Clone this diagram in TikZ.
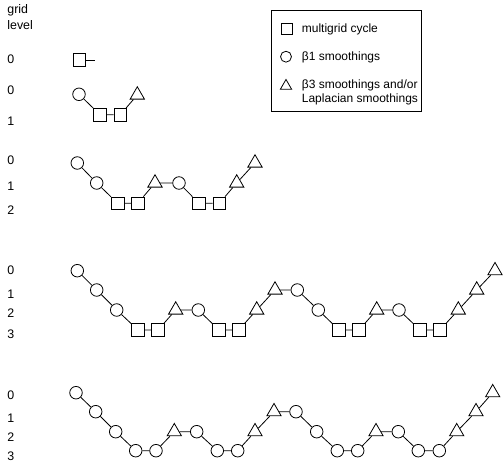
\documentclass[tikz,border=0pt]{standalone}
\usepackage{fontspec}
\setmainfont{Liberation Sans}
\usetikzlibrary{shapes.geometric}

\tikzset{
  mgsq/.style={draw, rectangle, minimum size=9.4pt, inner sep=0pt},
  smcirc/.style={draw, circle, minimum size=9.4pt, inner sep=0pt},
  lptri/.style={draw, regular polygon, regular polygon sides=3, minimum size=12.4pt, inner sep=0pt},
  keysq/.style={mgsq, minimum size=8pt},
  keycirc/.style={smcirc, minimum size=8.2pt},
  keytri/.style={lptri, minimum size=9.8pt},
  lvltext/.style={anchor=west, inner sep=0.75pt, font=\fontsize{9.3}{11}\selectfont},
  keytext/.style={anchor=west, inner sep=0.75pt, align=left, font=\fontsize{9}{10.5}\selectfont},
}

\begin{document}
\begin{tikzpicture}[x=0.75pt,y=0.75pt,yscale=-1,xscale=1,line width=0.6pt]
\useasboundingbox (0,0) rectangle (503,464);

% Text Node
\draw (6,10.7) node [lvltext] (head1) {grid};
% Text Node
\draw (6,25) node [lvltext] (head2) {level};

%Row 1
\draw (6,59) node [lvltext] (la0) {0};
\draw (79.3,60) node [mgsq] (a1) {};
\coordinate (a0) at (95,60);
\draw (a1) -- (a0);

%Row 2
\draw (6,90) node [lvltext] (lb0) {0};
\draw (6,121.7) node [lvltext] (lb1) {1};
\draw (79,94.3) node [smcirc] (b1) {};
\draw (100,114.7) node [mgsq] (b2) {};
\draw (120.3,114.7) node [mgsq] (b3) {};
\draw (137.3,95) node [lptri] (b4) {};
\draw (b1) -- (b2) -- (b3) -- (b4);

%Row 3
\draw (6,160.7) node [lvltext] (lc0) {0};
\draw (6,186.7) node [lvltext] (lc1) {1};
\draw (6,210) node [lvltext] (lc2) {2};
\draw (77.3,163) node [smcirc] (c1) {};
\draw (96.7,183) node [smcirc] (c2) {};
\draw (117.7,203.3) node [mgsq] (c3) {};
\draw (137.7,203.3) node [mgsq] (c4) {};
\draw (155,183) node [lptri] (c5) {};
\draw (179,183) node [smcirc] (c6) {};
\draw (199,203.3) node [mgsq] (c7) {};
\draw (219.3,203.3) node [mgsq] (c8) {};
\draw (236.7,183) node [lptri] (c9) {};
\draw (255,163) node [lptri] (c10) {};
\draw (c1) -- (c2) -- (c3) -- (c4) -- (c5) -- (c6) -- (c7) -- (c8) -- (c9) -- (c10);

%Row 4
\draw (6,270) node [lvltext] (ld0) {0};
\draw (6,294) node [lvltext] (ld1) {1};
\draw (6,312.7) node [lvltext] (ld2) {2};
\draw (6,334) node [lvltext] (ld3) {3};
\draw (77.3,270.7) node [smcirc] (d1) {};
\draw (96.7,290) node [smcirc] (d2) {};
\draw (116.7,310) node [smcirc] (d3) {};
\draw (138,330) node [mgsq] (d4) {};
\draw (158,330) node [mgsq] (d5) {};
\draw (175.7,310) node [lptri] (d6) {};
\draw (198.3,310) node [smcirc] (d7) {};
\draw (219,330) node [mgsq] (d8) {};
\draw (238.7,330) node [mgsq] (d9) {};
\draw (256.7,310) node [lptri] (d10) {};
\draw (275,290) node [lptri] (d11) {};
\draw (297.3,290) node [smcirc] (d12) {};
\draw (318.3,310) node [smcirc] (d13) {};
\draw (339,330) node [mgsq] (d14) {};
\draw (359,330) node [mgsq] (d15) {};
\draw (376.7,310) node [lptri] (d16) {};
\draw (399,310) node [smcirc] (d17) {};
\draw (420,330) node [mgsq] (d18) {};
\draw (440,330) node [mgsq] (d19) {};
\draw (458.3,310) node [lptri] (d20) {};
\draw (476.7,290) node [lptri] (d21) {};
\draw (495,270.7) node [lptri] (d22) {};
\draw (d1) -- (d2) -- (d3) -- (d4) -- (d5) -- (d6) -- (d7) -- (d8) -- (d9) -- (d10) -- (d11)
  -- (d12) -- (d13) -- (d14) -- (d15) -- (d16) -- (d17) -- (d18) -- (d19) -- (d20) -- (d21) -- (d22);

%Row 5
\draw (6,395) node [lvltext] (le0) {0};
\draw (6,418.3) node [lvltext] (le1) {1};
\draw (6,436.7) node [lvltext] (le2) {2};
\draw (6,456.7) node [lvltext] (le3) {3};
\draw (76,392.7) node [smcirc] (e1) {};
\draw (95.7,411.7) node [smcirc] (e2) {};
\draw (115.7,431.7) node [smcirc] (e3) {};
\draw (135.7,450.7) node [smcirc] (e4) {};
\draw (156,450.7) node [smcirc] (e5) {};
\draw (174.3,431.7) node [lptri] (e6) {};
\draw (196.7,431.7) node [smcirc] (e7) {};
\draw (217.3,450.7) node [smcirc] (e8) {};
\draw (237.7,450.7) node [smcirc] (e9) {};
\draw (255,431.7) node [lptri] (e10) {};
\draw (274,411.7) node [lptri] (e11) {};
\draw (296,411.7) node [smcirc] (e12) {};
\draw (316.7,431.7) node [smcirc] (e13) {};
\draw (337.3,450.7) node [smcirc] (e14) {};
\draw (357.7,450.7) node [smcirc] (e15) {};
\draw (376,431.7) node [lptri] (e16) {};
\draw (398.3,431.7) node [smcirc] (e17) {};
\draw (418.3,450.7) node [smcirc] (e18) {};
\draw (439.3,450.7) node [smcirc] (e19) {};
\draw (456.7,431.7) node [lptri] (e20) {};
\draw (476,411.7) node [lptri] (e21) {};
\draw (492.7,392.7) node [lptri] (e22) {};
\draw (e1) -- (e2) -- (e3) -- (e4) -- (e5) -- (e6) -- (e7) -- (e8) -- (e9) -- (e10) -- (e11)
  -- (e12) -- (e13) -- (e14) -- (e15) -- (e16) -- (e17) -- (e18) -- (e19) -- (e20) -- (e21) -- (e22);

%Legend
\draw (271,10) rectangle (421.7,111);
\draw (286.7,29) node [keysq] (k1) {};
\draw (286,56.7) node [keycirc] (k2) {};
\draw (286,86) node [keytri] (k3) {};
% Text Node
\draw (300.5,29) node [keytext] (t1) {multigrid cycle};
% Text Node
\draw (300.5,57) node [keytext] (t2) {β1 smoothings};
% Text Node
\draw (300.5,92) node [keytext] (t3) {β3 smoothings and/or\\Laplacian smoothings};

\end{tikzpicture}
\end{document}
